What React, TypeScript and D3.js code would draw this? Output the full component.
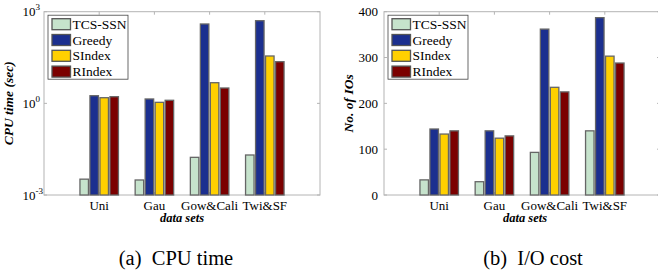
import React, { useRef, useEffect } from 'react';
import * as d3 from 'd3';

// categories and series
const datasets = ['Uni', 'Gau', 'Gow&Cali', 'Twi&SF'];
const methods = ['TCS-SSN', 'Greedy', 'SIndex', 'RIndex'];
const colors = ['#c6e3cc', '#1b2f8f', '#ffd000', '#7b0000'];

// CPU time (sec), log scale
const cpuTCS = [0.0033, 0.0031, 0.0171, 0.0204];
const cpuGreedy = [1.78, 1.39, 396, 508];
const cpuSIndex = [1.53, 1.08, 4.74, 35.5];
const cpuRIndex = [1.65, 1.26, 3.18, 23.1];

// No. of IOs
const ioTCS = [33, 29, 93, 140];
const ioGreedy = [144, 140, 362, 387];
const ioSIndex = [133, 124, 235, 303];
const ioRIndex = [140, 129, 225, 288];

const logTicks = [-3, 0, 3];
const ioTicks = [0, 100, 200, 300, 400];

const App = () => {
  const svgRef = useRef<SVGSVGElement>(null);

  useEffect(() => {
    const svg = d3.select(svgRef.current);
    svg.selectAll('*').remove();

    const top = 11.7;
    const bottom = 195;

    const panel = (
      left: number,
      series: number[][],
      y: (v: number) => number,
      yTicks: { v: number; base: string; sup?: string }[],
      yLabel: string,
      caption: string,
      captionX: number
    ) => {
      const right = left + 276;
      const x = d3.scaleLinear().domain([0, 5]).range([left, right]);
      const g = svg.append('g');

      // box
      g.append('rect')
        .attr('x', left).attr('y', top)
        .attr('width', right - left).attr('height', bottom - top)
        .attr('fill', 'white').attr('stroke', '#b4b4b4').attr('stroke-width', 1);

      // x ticks (top & bottom, inward)
      datasets.forEach((d, i) => {
        const xi = x(i + 1);
        g.append('line').attr('x1', xi).attr('x2', xi).attr('y1', top).attr('y2', top + 3)
          .attr('stroke', '#b4b4b4');
        g.append('line').attr('x1', xi).attr('x2', xi).attr('y1', bottom).attr('y2', bottom - 3)
          .attr('stroke', '#b4b4b4');
        g.append('text').attr('x', xi).attr('y', bottom + 14.5)
          .attr('text-anchor', 'middle').attr('font-size', 13)
          .text(d);
      });

      // y ticks
      yTicks.forEach(t => {
        const yy = y(t.v);
        g.append('line').attr('x1', left).attr('x2', left + 3).attr('y1', yy).attr('y2', yy)
          .attr('stroke', '#b4b4b4');
        g.append('line').attr('x1', right).attr('x2', right - 3).attr('y1', yy).attr('y2', yy)
          .attr('stroke', '#b4b4b4');
        if (t.sup) {
          const txt = g.append('text').attr('y', yy + 4.5).attr('font-size', 13);
          txt.append('tspan').attr('x', left - 21.5).text(t.base);
          txt.append('tspan').attr('dy', -6).attr('font-size', 9).text(t.sup);
        } else {
          g.append('text').attr('x', left - 6).attr('y', yy + 4.5)
            .attr('text-anchor', 'end').attr('font-size', 13)
            .text(t.base);
        }
      });

      // bars
      const bw = 8.5;
      series.forEach((vals, s) => {
        vals.forEach((v, i) => {
          const cx = x(i + 1) + (s - 1.5) * 10;
          const yt = y(v);
          g.append('rect')
            .attr('x', cx - bw / 2).attr('y', yt)
            .attr('width', bw).attr('height', bottom - yt)
            .attr('fill', colors[s]).attr('stroke', '#666').attr('stroke-width', 1.3);
        });
      });

      // legend
      const lx = left + 4;
      const ly = top + 3.5;
      g.append('rect').attr('x', lx).attr('y', ly).attr('width', 80).attr('height', 64)
        .attr('fill', 'white').attr('stroke', '#444').attr('stroke-width', 0.8);
      methods.forEach((m, s) => {
        const cy = ly + 9 + s * 15.8;
        g.append('rect').attr('x', lx + 4).attr('y', cy - 5.5).attr('width', 18.5).attr('height', 11)
          .attr('fill', colors[s]).attr('stroke', '#555').attr('stroke-width', 1.3);
        g.append('text').attr('x', lx + 24.5).attr('y', cy + 4.5)
          .attr('font-size', 13.5).text(m);
      });

      // axis titles
      g.append('text').attr('x', (left + Math.min(right, 658)) / 2 + (right > 658 ? 4 : 0)).attr('y', 222)
        .attr('text-anchor', 'middle').attr('font-size', 12.5)
        .attr('font-weight', 'bold').attr('font-style', 'italic').text('data sets');
      g.append('text')
        .attr('transform', `translate(${left - 31},${(top + bottom) / 2}) rotate(-90)`)
        .attr('text-anchor', 'middle').attr('font-size', 13.5)
        .attr('font-weight', 'bold').attr('font-style', 'italic').text(yLabel);

      // caption
      g.append('text').attr('x', captionX).attr('y', 265)
        .attr('text-anchor', 'middle').attr('font-size', 20.5)
        .text(caption);
    };

    const yLog = d3.scaleLog().domain([1e-3, 1e3]).range([bottom, top]);
    panel(
      44,
      [cpuTCS, cpuGreedy, cpuSIndex, cpuRIndex],
      v => yLog(v),
      logTicks.map(p => ({ v: Math.pow(10, p), base: '10', sup: String(p) })),
      'CPU time (sec)',
      '(a)\u00a0\u00a0CPU time',
      176
    );

    const yLin = d3.scaleLinear().domain([0, 400]).range([bottom, top]);
    panel(
      384,
      [ioTCS, ioGreedy, ioSIndex, ioRIndex],
      v => yLin(v),
      ioTicks.map(v => ({ v, base: String(v) })),
      'No. of IOs',
      '(b)\u00a0\u00a0I/O cost',
      533
    );
  }, []);

  return (
    <svg
      ref={svgRef}
      width={658}
      height={274}
      style={{
        position: 'absolute',
        left: 0,
        top: 0,
        background: 'white',
        fontFamily: "'Liberation Serif', 'Times New Roman', Times, serif",
      }}
    />
  );
};

export default App;
